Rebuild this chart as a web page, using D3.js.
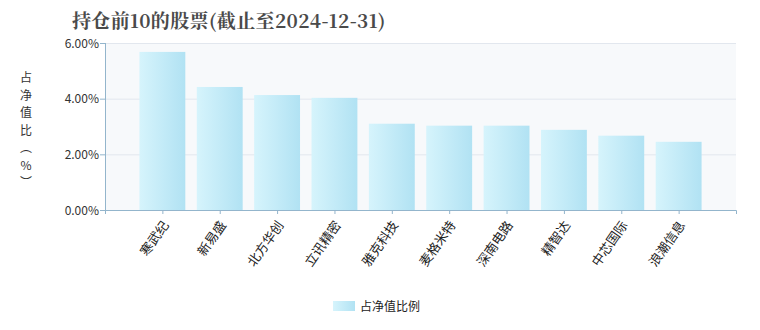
<!DOCTYPE html>
<html>
<head>
<meta charset="utf-8">
<script src="https://cdn.jsdelivr.net/npm/d3@7"></script>
<style>
  body { margin: 0; background: #fff; }
  text { font-family: "Noto Sans CJK SC", "DejaVu Sans", sans-serif; }
</style>
</head>
<body>
<div id="chart"></div>
<script>
const stocks = ["寒武纪", "新易盛", "北方华创", "立讯精密", "雅克科技", "麦格米特", "深南电路", "精智达", "中芯国际", "浪潮信息"];
const ratios = [5.68, 4.42, 4.13, 4.03, 3.10, 3.03, 3.03, 2.88, 2.67, 2.45];
const yTicks = [0, 2, 4, 6];
const titleText = "持仓前10的股票(截止至2024-12-31)";
const yTitle = ["占", "净", "值", "比", "︵", "%", "︶"];
const legendText = "占净值比例";

const W = 760, H = 330;
const margin = {top: 43, right: 24, bottom: 120, left: 105},
      width = W - margin.left - margin.right,
      height = H - margin.top - margin.bottom;

const svg = d3.select("#chart")
  .append("svg")
  .attr("width", W)
  .attr("height", H);

const defs = svg.append("defs");
const grad = defs.append("linearGradient")
  .attr("id", "barGrad")
  .attr("x1", "0%").attr("x2", "100%").attr("y1", "0%").attr("y2", "0%");
grad.append("stop").attr("offset", "0%").attr("stop-color", "#d6f4fc");
grad.append("stop").attr("offset", "100%").attr("stop-color", "#b1e2f3");

// title
svg.append("text")
  .attr("x", 72)
  .attr("y", 28)
  .attr("font-size", 19)
  .attr("font-weight", "bold")
  .attr("letter-spacing", 0.35)
  .attr("fill", "#4a4a4a")
  .style("font-family", "'Noto Serif CJK SC', 'DejaVu Serif', 'Noto Sans CJK SC', serif")
  .text(titleText);

const g = svg.append("g")
  .attr("transform", `translate(${margin.left},${margin.top})`);

// categories sit on points 1..10 of an 12-point axis
const x = d3.scalePoint()
  .domain(["_start", ...stocks, "_end"])
  .range([0, width]);
const step = x.step();
const barW = step * 0.8;

const y = d3.scaleLinear().domain([0, 6]).range([height, 0]);

// plot background
g.append("rect")
  .attr("width", width)
  .attr("height", height)
  .attr("fill", "#f7f9fb");

// grid
g.selectAll(".grid")
  .data(yTicks.filter(d => d > 0))
  .enter().append("line")
  .attr("class", "grid")
  .attr("x1", 0).attr("x2", width)
  .attr("y1", d => y(d) + 0.5).attr("y2", d => y(d) + 0.5)
  .attr("stroke", "#e2e7ee")
  .attr("stroke-width", 1);

// bars
g.selectAll(".bar")
  .data(stocks.map((s, i) => ({name: s, value: ratios[i]})))
  .enter().append("rect")
  .attr("class", "bar")
  .attr("x", d => x(d.name) - barW / 2)
  .attr("y", d => y(d.value))
  .attr("width", barW)
  .attr("height", d => height - y(d.value))
  .attr("fill", "url(#barGrad)");

const axisColor = "#93b5cc";

// y axis
const yAxis = g.append("g")
  .call(d3.axisLeft(y).tickValues(yTicks).tickSize(5).tickFormat(d => d.toFixed(2) + "%"));
yAxis.select(".domain").attr("stroke", axisColor).attr("d", `M0.5,0V${height + 4}`);
yAxis.selectAll(".tick line").attr("stroke", axisColor);
yAxis.selectAll(".tick text")
  .attr("font-size", 12)
  .attr("fill", "#333")
  .attr("x", -6)
  .attr("dy", "0.36em");

// x axis
const xAxis = g.append("g")
  .attr("transform", `translate(0,${height})`)
  .call(d3.axisBottom(x).tickValues(stocks).tickSize(4).tickFormat(""));
xAxis.select(".domain").attr("stroke", axisColor).attr("d", `M0.5,0.5H${width + 0.5}V4`);
xAxis.selectAll(".tick line").attr("stroke", axisColor);

g.selectAll(".xlabel")
  .data(stocks)
  .enter().append("text")
  .attr("class", "xlabel")
  .attr("transform", d => `translate(${x(d) + 7},${height + 15}) rotate(-55)`)
  .attr("text-anchor", "end")
  .attr("font-size", 13)
  .attr("fill", "#222")
  .text(d => d);

// y title, stacked vertically
svg.selectAll(".ytitle")
  .data(yTitle)
  .enter().append("text")
  .attr("class", "ytitle")
  .attr("x", 26)
  .attr("y", (d, i) => 82 + i * 17.5)
  .attr("text-anchor", "middle")
  .attr("font-size", 12)
  .attr("fill", "#333")
  .text(d => d);

// legend
svg.append("rect")
  .attr("x", 333).attr("y", 301)
  .attr("width", 22).attr("height", 10)
  .attr("fill", "url(#barGrad)");
svg.append("text")
  .attr("x", 360).attr("y", 311)
  .attr("font-size", 12)
  .attr("fill", "#222")
  .text(legendText);
</script>
</body>
</html>
